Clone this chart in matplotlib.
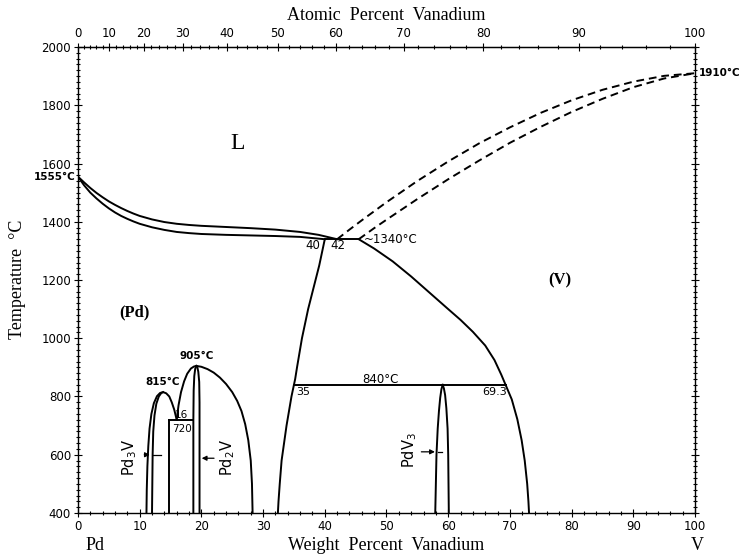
import numpy as np
import matplotlib.pyplot as plt
from matplotlib.ticker import MultipleLocator, FixedLocator

# phase boundaries (wt% V, temperature in C)
liq_x = [0, 1, 2, 3, 4, 5, 6, 7, 8, 9, 10, 12, 14, 16, 18, 20, 24, 28, 32, 36, 39, 42]
liq_t = [1555, 1535, 1516, 1499, 1484, 1470, 1458, 1447, 1437, 1428, 1420, 1408,
         1399, 1393, 1389, 1386, 1382, 1378, 1373, 1365, 1355, 1340]
sol_x = [0, 1, 2, 3, 4, 5, 6, 7, 8, 9, 10, 12, 14, 16, 18, 20, 24, 28, 32, 36, 40]
sol_t = [1555, 1525, 1500, 1480, 1462, 1446, 1432, 1420, 1410, 1401, 1393, 1381,
         1372, 1365, 1361, 1358, 1355, 1353, 1351, 1348, 1340]

liqv_x = [42, 44, 46, 50, 55, 60, 65, 70, 75, 80, 85, 90, 95, 100]
liqv_t = [1340, 1373, 1405, 1467, 1540, 1607, 1669, 1724, 1774, 1817, 1853, 1881,
          1901, 1910]
solv_x = [45.5, 48, 50, 55, 60, 65, 70, 75, 80, 85, 90, 95, 100]
solv_t = [1340, 1378, 1407, 1478, 1546, 1610, 1671, 1726, 1777, 1822, 1862, 1892,
          1910]

vsol_x = [45.5, 48, 51, 54, 57, 60, 62, 64, 66, 67.5, 68.6, 69.3, 70.3, 71.2,
          71.9, 72.4, 72.8, 73.0, 73.1]
vsol_t = [1340, 1308, 1264, 1212, 1156, 1100, 1063, 1022, 975, 925, 875, 840,
          790, 722, 650, 580, 500, 440, 400]

pds_x = [40, 39.6, 39.1, 38.5, 37.9, 37.3, 36.8, 36.3, 35.9, 35.5, 35.2, 35.0,
         34.6, 34.2, 33.8, 33.4, 33.0, 32.7, 32.5, 32.4]
pds_t = [1340, 1300, 1250, 1200, 1150, 1100, 1050, 1000, 950, 900, 860, 840,
         800, 750, 700, 640, 580, 500, 440, 400]

eut_x = [40, 45.5]
eut_t = [1340, 1340]
peri_x = [35, 69.3]
peri_t = [840, 840]

# Pd3V
p3o_x = [11.1, 11.15, 11.25, 11.4, 11.6, 11.9, 12.3, 12.8, 13.3, 13.8, 14.3,
         14.8, 15.2, 15.6, 16.0]
p3o_t = [400, 480, 560, 630, 690, 740, 777, 801, 812, 815, 811, 800, 780, 755, 720]
p3i_x = [12.0, 12.05, 12.1, 12.2, 12.4, 12.7, 13.1, 13.5, 13.8]
p3i_t = [400, 500, 600, 680, 735, 775, 800, 812, 815]
p3r_x = [14.8, 14.8]
p3r_t = [400, 720]
e720_x = [14.8, 18.7]
e720_t = [720, 720]

# Pd2V
p2o_x = [16.0, 16.3, 16.7, 17.2, 17.7, 18.3, 18.8, 19.2, 20.0, 21.0, 22.0, 23.0,
         24.0, 25.0, 25.8, 26.5, 27.1, 27.6, 28.0, 28.2, 28.3]
p2o_t = [720, 770, 815, 852, 878, 896, 903, 905, 902, 894, 882, 865, 843, 815,
         785, 750, 705, 650, 580, 500, 400]
p2l_x = [18.7, 18.7, 18.75, 18.85, 19.0, 19.2]
p2l_t = [400, 720, 820, 870, 895, 905]
p2r_x = [19.7, 19.7, 19.65, 19.5, 19.35, 19.2]
p2r_t = [400, 780, 850, 885, 900, 905]

# PdV3
p13l_x = [57.9, 58.0, 58.1, 58.3, 58.5, 58.7, 58.9, 59.1]
p13l_t = [400, 500, 600, 690, 750, 795, 825, 840]
p13r_x = [60.1, 60.05, 60.0, 59.9, 59.7, 59.5, 59.3, 59.1]
p13r_t = [400, 500, 600, 690, 760, 805, 828, 840]

solid = [(liq_x, liq_t), (sol_x, sol_t), (vsol_x, vsol_t), (pds_x, pds_t),
         (eut_x, eut_t), (peri_x, peri_t), (p3o_x, p3o_t), (p3i_x, p3i_t),
         (p3r_x, p3r_t), (e720_x, e720_t), (p2o_x, p2o_t), (p2l_x, p2l_t),
         (p2r_x, p2r_t), (p13l_x, p13l_t), (p13r_x, p13r_t)]
dashed = [(liqv_x, liqv_t), (solv_x, solv_t)]

M_V, M_PD = 50.94, 106.42


def wt2at(w):
    w = np.asarray(w, dtype=float)
    nv = w / M_V
    return 100 * nv / (nv + (100 - w) / M_PD)


def at2wt(a):
    a = np.asarray(a, dtype=float)
    mv = a * M_V
    return 100 * mv / (mv + (100 - a) * M_PD)


plt.rcParams['font.family'] = ['DejaVu Sans']
fig = plt.figure(figsize=(7.39, 5.55), dpi=100)
ax = fig.add_axes([0.1055, 0.0757, 0.835, 0.8396])

for x, t in solid:
    ax.plot(x, t, color="black", lw=1.4, solid_joinstyle="round")
for x, t in dashed:
    ax.plot(x, t, color="black", lw=1.4, ls=(0, (4, 2.5)))

ax.set_xlim(0, 100)
ax.set_ylim(400, 2000)
ax.xaxis.set_major_locator(MultipleLocator(10))
ax.xaxis.set_minor_locator(MultipleLocator(2))
ax.yaxis.set_major_locator(MultipleLocator(200))
ax.yaxis.set_minor_locator(MultipleLocator(20))
ax.tick_params(which="both", direction="inout", right=True, labelsize=8.5,
               width=0.8, pad=2)
ax.tick_params(which="major", length=6)
ax.tick_params(which="minor", length=3)
for s in ax.spines.values():
    s.set_linewidth(1.0)

top = ax.secondary_xaxis("top", functions=(wt2at, at2wt))
top.xaxis.set_major_locator(FixedLocator(list(range(0, 101, 10))))
top.xaxis.set_minor_locator(FixedLocator(list(range(0, 101, 2))))
top.tick_params(which="both", direction="inout", labelsize=8.5, width=0.8, pad=2)
top.tick_params(which="major", length=6)
top.tick_params(which="minor", length=3)

serif = "Liberation Serif"
fig.text(0.523, 0.972, "Atomic  Percent  Vanadium", family=serif, fontsize=13,
         ha="center", va="center")
fig.text(0.523, 0.018, "Weight  Percent  Vanadium", family=serif, fontsize=13,
         ha="center", va="center")
fig.text(0.024, 0.496, "Temperature  °C", family=serif, fontsize=13,
         ha="center", va="center", rotation=90)
fig.text(0.128, 0.018, "Pd", family=serif, fontsize=13, ha="center", va="center")
fig.text(0.943, 0.018, "V", family=serif, fontsize=13, ha="center", va="center")

small = dict(fontsize=7.5, fontweight="bold", color="black")
ax.text(-0.4, 1555, "1555°C", ha="right", va="center", **small)
ax.text(100.6, 1910, "1910°C", ha="left", va="center", **small)
ax.text(46.3, 1340, "~1340°C", ha="left", va="center", fontsize=8.5)
ax.text(38.0, 1318, "40", ha="center", va="center", fontsize=8.5)
ax.text(42.2, 1318, "42", ha="center", va="center", fontsize=8.5)
ax.text(36.5, 815, "35", ha="center", va="center", fontsize=8)
ax.text(67.5, 815, "69.3", ha="center", va="center", fontsize=8)
ax.text(49.0, 858, "840°C", ha="center", va="center", fontsize=8.5)
ax.text(19.2, 940, "905°C", ha="center", va="center", **small)
ax.text(13.8, 850, "815°C", ha="center", va="center", **small)
ax.text(16.8, 735, "16", ha="center", va="center", fontsize=7.5)
ax.text(16.8, 690, "720", ha="center", va="center", fontsize=7.5)

ax.text(25.9, 1668, "L", family=serif, fontsize=17, ha="center", va="center")
ax.text(9.2, 1089, "(Pd)", family=serif, fontsize=12, fontweight="bold",
        ha="center", va="center")
ax.text(78.1, 1199, "(V)", family=serif, fontsize=12, fontweight="bold",
        ha="center", va="center")

ax.text(8.4, 592, r"Pd$_3$V", fontsize=10.5, rotation=90, ha="center", va="center")
ax.text(24.2, 590, r"Pd$_2$V", fontsize=10.5, rotation=90, ha="center", va="center")
ax.text(53.8, 616, r"PdV$_3$", fontsize=10.5, rotation=90, ha="center", va="center")

arw = dict(arrowstyle="-|>", color="black", lw=0.9, mutation_scale=7)
ax.annotate("", xy=(12.1, 600), xytext=(10.3, 600), arrowprops=arw)
ax.plot([12.1, 13.4], [600, 600], color="black", lw=0.9)
ax.annotate("", xy=(19.6, 588), xytext=(22.5, 588), arrowprops=arw)
ax.annotate("", xy=(58.3, 610), xytext=(55.2, 610), arrowprops=arw)
ax.plot([58.3, 59.0], [610, 610], color="black", lw=0.9)

fig.savefig("out.png", dpi=100)
